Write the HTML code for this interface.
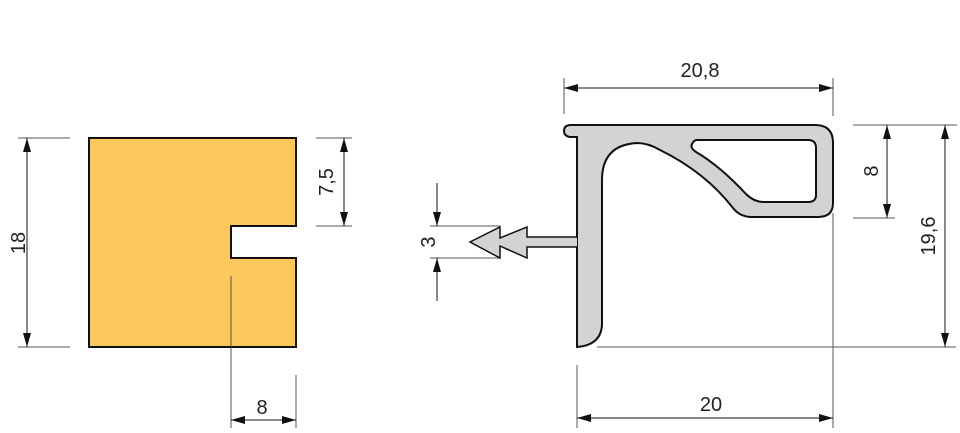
<!DOCTYPE html>
<html><head><meta charset="utf-8"><style>
html,body{margin:0;padding:0;background:#fff;}
svg{display:block;}
text{font-family:"Liberation Sans",sans-serif;font-size:20px;fill:#222;}
</style></head><body>
<svg width="960" height="433" viewBox="0 0 960 433" xmlns="http://www.w3.org/2000/svg">
<defs>
<marker id="a" viewBox="0 0 14 8" refX="14" refY="4" markerWidth="14" markerHeight="8" markerUnits="userSpaceOnUse" orient="auto-start-reverse"><path d="M0,0 L14,4 L0,8 Z" fill="#111"/></marker>
</defs>
<g stroke="#555" stroke-width="1" fill="none">
<!-- left extension lines -->
<line x1="18" y1="138" x2="70" y2="138"/>
<line x1="18" y1="347" x2="70" y2="347"/>
<line x1="316" y1="138" x2="352" y2="138"/>
<line x1="316" y1="226" x2="352" y2="226"/>
<line x1="231" y1="276" x2="231" y2="428"/>
<line x1="296" y1="375" x2="296" y2="428"/>
<!-- right extension lines -->
<line x1="564" y1="78" x2="564" y2="114"/>
<line x1="833" y1="78" x2="833" y2="116"/>
<line x1="833" y1="213" x2="833" y2="428"/>
<line x1="577" y1="365" x2="577" y2="428"/>
<line x1="597" y1="347" x2="956" y2="347"/>
<line x1="853" y1="125" x2="957" y2="125"/>
<line x1="853" y1="218" x2="895" y2="218"/>
<line x1="430" y1="226" x2="500" y2="226"/>
<line x1="430" y1="258" x2="500" y2="258"/>
</g>
<rect x="0" y="0" width="0" height="0"/>
<!-- left shape -->
<path d="M89,138 L296,138 L296,226 L231,226 L231,258 L296,258 L296,347 L89,347 Z" fill="#fbc85c" stroke="#111" stroke-width="2"/>
<line x1="231" y1="276" x2="231" y2="347" stroke="#555" stroke-width="1"/>
<!-- dims -->
<g stroke="#111" stroke-width="1" fill="none">
<line x1="27" y1="138" x2="27" y2="347" marker-start="url(#a)" marker-end="url(#a)"/>
<line x1="344" y1="138" x2="344" y2="226" marker-start="url(#a)" marker-end="url(#a)"/>
<line x1="231" y1="420" x2="296" y2="420" marker-start="url(#a)" marker-end="url(#a)"/>
<line x1="564" y1="88" x2="833" y2="88" marker-start="url(#a)" marker-end="url(#a)"/>
<line x1="577" y1="418" x2="833" y2="418" marker-start="url(#a)" marker-end="url(#a)"/>
<line x1="887" y1="125" x2="887" y2="218" marker-start="url(#a)" marker-end="url(#a)"/>
<line x1="945" y1="125" x2="945" y2="347" marker-start="url(#a)" marker-end="url(#a)"/>
<line x1="437" y1="183" x2="437" y2="226" marker-end="url(#a)"/>
<line x1="437" y1="301" x2="437" y2="258" marker-end="url(#a)"/>
</g>
<!-- profile -->
<path d="M577,347 L577,137 L570,137 Q564,136 564,131 Q564,125 571,125 L815,125 Q833,125 833,143 L833,203 Q833,217 818,217 L752,217 Q740,217 733,208 Q705,172 660,150 Q648,143 637,143 Q602,145 602,180 L602,323 Q602,345 577,347 Z" fill="#d3d3d3" stroke="#111" stroke-width="2"/>
<path d="M697,140 L808,140 Q816,140 816,148 L816,195 Q816,202 808,202 L764,202 Q754,202 746,194 Q720,166 696,152 Q690,148 692,144 Q694,140 697,140 Z" fill="#fff" stroke="#111" stroke-width="2"/>
<path d="M577,237 L527,237 L527,227 L500,238 L500,227 L470,242 L500,258 L500,246 L527,258 L527,247 L577,247" fill="#d3d3d3" stroke="#111" stroke-width="1.5"/>
<!-- labels -->
<text x="262" y="414" text-anchor="middle">8</text>
<text transform="translate(18,243) rotate(-90)" text-anchor="middle" dy="7">18</text>
<text transform="translate(326,182) rotate(-90)" text-anchor="middle" dy="7">7,5</text>
<text transform="translate(428,242) rotate(-90)" text-anchor="middle" dy="7">3</text>
<text x="700" y="77" text-anchor="middle">20,8</text>
<text x="711" y="411" text-anchor="middle">20</text>
<text transform="translate(871,171) rotate(-90)" text-anchor="middle" dy="7">8</text>
<text transform="translate(928,236) rotate(-90)" text-anchor="middle" dy="7">19,6</text>
</svg>
</body></html>
